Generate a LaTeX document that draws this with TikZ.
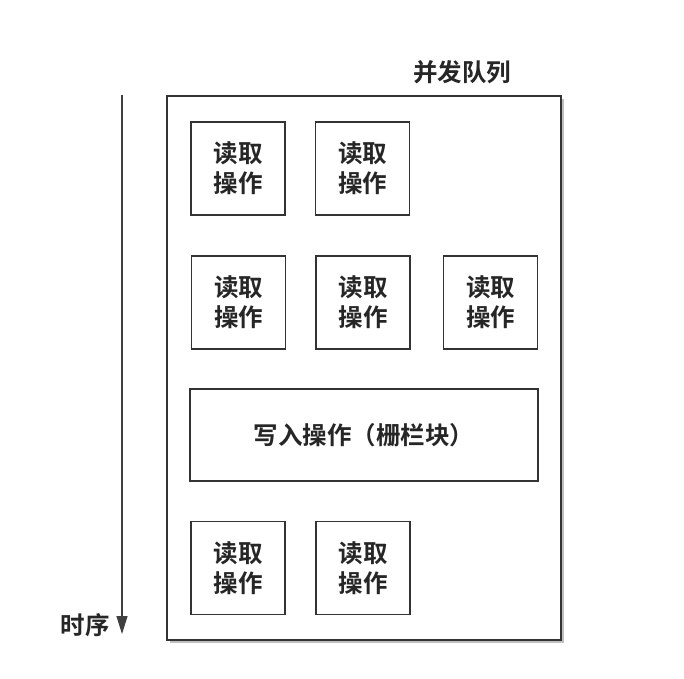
\documentclass[tikz,border=0pt]{standalone}
\usepackage{fontspec}
\usetikzlibrary{arrows.meta}
\newfontfamily\cjk{Noto Sans CJK SC}[BoldFont={* Bold}]
\begin{document}
\begin{tikzpicture}[x=1pt,y=-1pt,
  box/.style={draw=black!80,line width=1.3pt},
  cjkfont/.style={font=\cjk\bfseries\fontsize{24.5}{30}\selectfont},
  op/.style={box,cjkfont,minimum width=94pt,minimum height=93pt,inner sep=0pt,align=center},
  lbl/.style={cjkfont,inner sep=0pt}]
\useasboundingbox (0,0) rectangle (684,678);
\fill[white] (0,0) rectangle (684,678);
% queue
\fill[black!25] (170,99) rectangle (564,643);
\node[box,fill=white,minimum width=394pt,minimum height=544pt,inner sep=0pt] (queue) at (364,368) {};
\node[lbl,text=black!85] (title) at (462,72) {并发队列};
% read ops
\node[op,text=black!85] (r1) at (238,168.5) {读取\\操作};
\node[op,text=black!85] (r2) at (362.5,168.5) {读取\\操作};
\node[op,text=black!85] (r3) at (238.5,302.5) {读取\\操作};
\node[op,text=black!85] (r4) at (363,302.5) {读取\\操作};
\node[op,text=black!85] (r5) at (490.5,302.5) {读取\\操作};
\node[box,cjkfont,text=black!85,minimum width=348pt,minimum height=92pt,inner sep=0pt] (w) at (364,435) {写入操作（栅栏块）};
\node[op,text=black!85] (r6) at (238,568) {读取\\操作};
\node[op,text=black!85] (r7) at (363,568) {读取\\操作};
% time axis
\coordinate (tstart) at (122,95);
\coordinate (tend) at (122,634);
\draw[black!75,line width=1.2pt,-{Triangle[length=18pt,width=11pt]}] (tstart) -- (tend);
\node[lbl,text=black!85,anchor=east] (time) at (110,625) {时序};
\end{tikzpicture}
\end{document}
